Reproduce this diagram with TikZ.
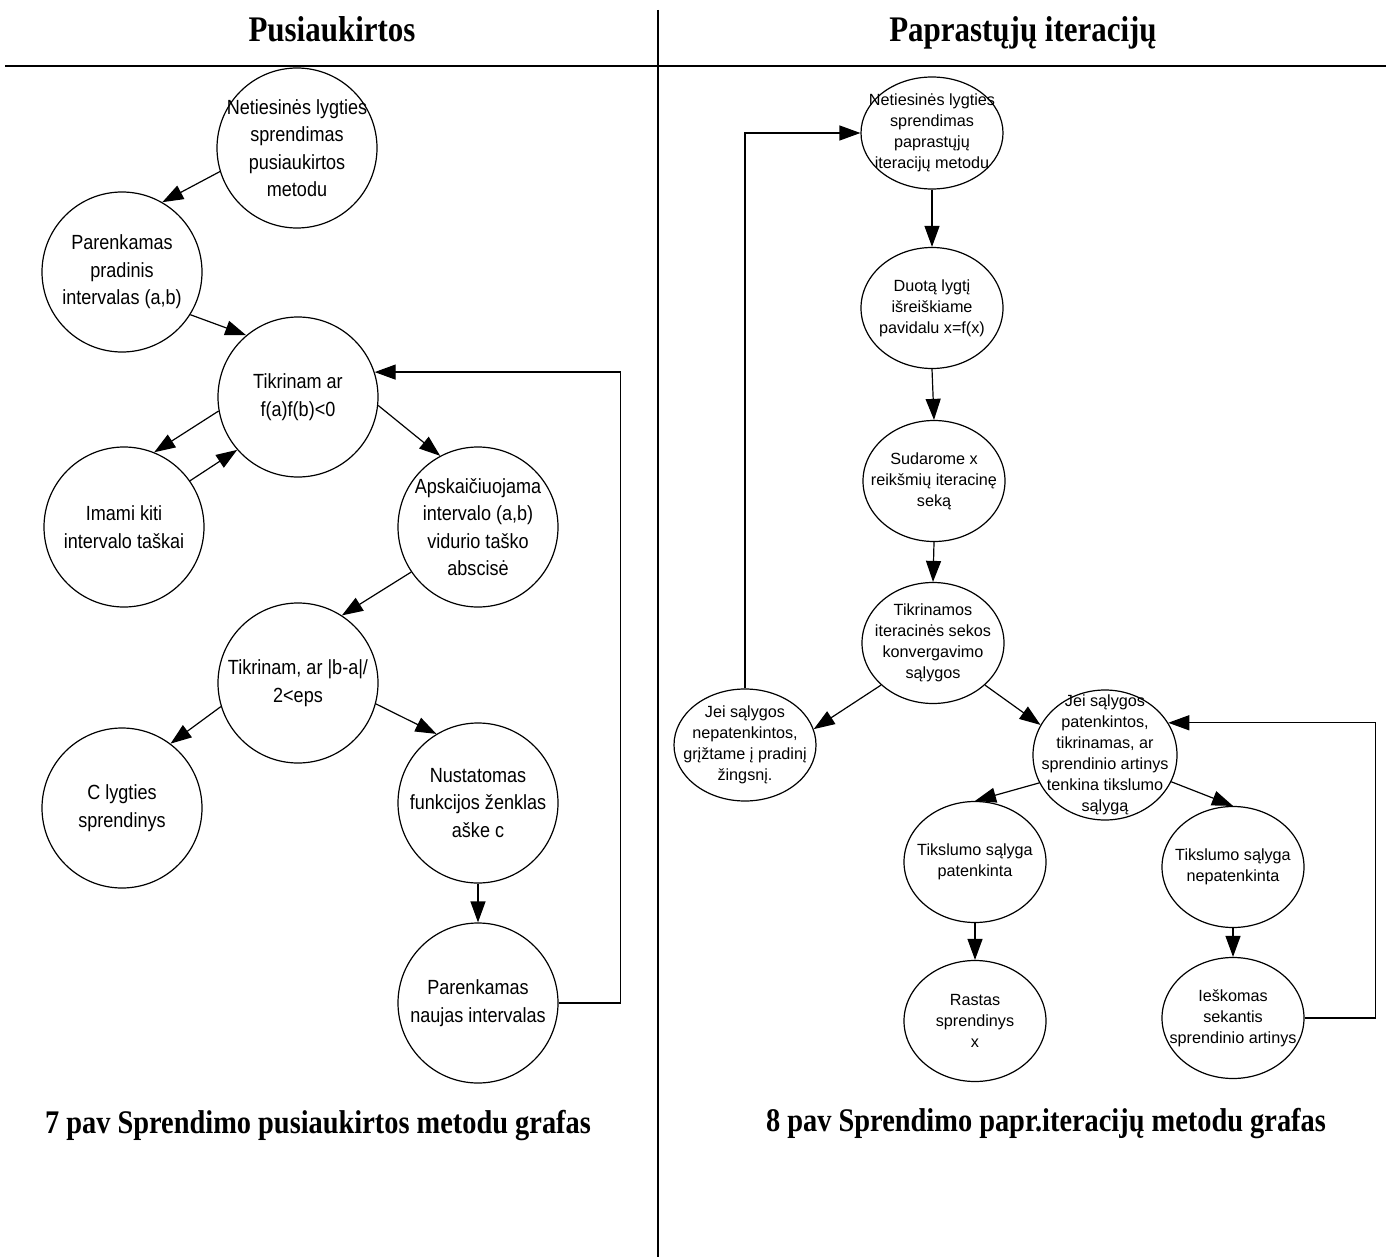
\documentclass[tikz,border=0pt]{standalone}
\usepackage{fontspec}
\setmainfont{Liberation Serif}
\newfontfamily\lsans[FakeStretch=0.88]{Liberation Sans}
\newfontfamily\rsans{Liberation Sans}
\newfontfamily\hserif[FakeStretch=0.86]{Liberation Serif}
\usetikzlibrary{arrows.meta,shapes.geometric}
\begin{document}
\begin{tikzpicture}[x=1pt,y=-1pt,
  lc/.style={circle,draw,line width=1.2pt,minimum size=160pt,inner sep=0pt},
  lt/.style={align=center,inner sep=0pt,font=\lsans\fontsize{20.5}{27.5}\selectfont},
  rc/.style={ellipse,draw,line width=1.2pt,minimum width=142pt,minimum height=121pt,inner sep=0pt},
  rt/.style={align=center,inner sep=0pt,font=\rsans\fontsize{16.2}{21}\selectfont},
  conn/.style={line width=1.2pt,-{Triangle[length=21pt,width=15pt]}},
  head/.style={font=\hserif\bfseries\fontsize{36}{40}\selectfont,inner sep=0pt,anchor=base},
  capt/.style={font=\hserif\bfseries\fontsize{33}{38}\selectfont,inner sep=0pt,anchor=base}
]
\useasboundingbox (0,0) rectangle (1386,1257);
\fill[white] (0,0) rectangle (1386,1257);

% frame lines
\draw[line width=2.5pt] (5,66) -- (1386,66);
\draw[line width=2pt] (658,10) -- (658,1257);

% headings
\node[head] (h1) at (332,42) {Pusiaukirtos};
\node[head] (h2) at (1023,42) {Paprastųjų iteracijų};

% captions
\node[capt] (c1) at (318,1133) {7 pav Sprendimo pusiaukirtos metodu grafas};
\node[capt] (c2) at (1046,1131) {8 pav Sprendimo papr.iteracijų metodu grafas};

% ---------------- left graph
\node[lc] (n1) at (297,148) {};
\node[lt] (n1t) at (n1) {Netiesinės lygties\\sprendimas\\pusiaukirtos\\metodu};
\node[lc] (n2) at (122,272) {};
\node[lt] (n2t) at (n2) {Parenkamas\\pradinis\\intervalas (a,b)};
\node[lc] (n3) at (298,397) {};
\node[lt] (n3t) at (n3) {Tikrinam ar\\f(a)f(b)<0};
\node[lc] (n4) at (124,527) {};
\node[lt] (n4t) at (n4) {Imami kiti\\intervalo taškai};
\node[lc] (n5) at (478,527) {};
\node[lt] (n5t) at (n5) {Apskaičiuojama\\intervalo (a,b)\\vidurio taško\\abscisė};
\node[lc] (n6) at (298,683) {};
\node[lt] (n6t) at (n6) {Tikrinam, ar |b-a|/\\2<eps};
\node[lc] (n7) at (122,808) {};
\node[lt] (n7t) at (n7) {C lygties\\sprendinys};
\node[lc] (n8) at (478,803) {};
\node[lt] (n8t) at (n8) {Nustatomas\\funkcijos ženklas\\aške c};
\node[lc] (n9) at (478,1003) {};
\node[lt] (n9t) at (n9) {Parenkamas\\naujas intervalas};

\draw[conn] (n1.197) -- (n2.60);
\draw[conn] (n2.-32) -- (n3.130);
\draw[conn] (n3.190) -- (n4.68);
\draw[conn] (n4.35) -- (n3.221);
\draw[conn] (n3.-6) -- (n5.118);
\draw[conn] (n5.214) -- (n6.57);
\draw[conn] (n6.197) -- (n7.53);
\draw[conn] (n6.-15) -- (n8.121);
\draw[conn] (n8.south) -- (n9.north);
\draw[conn] (n9.east) -- ++(62,0) |- (n3.18);

% ---------------- right graph
\node[rc,minimum height=112pt] (r1) at (932,133) {};
\node[rt] (r1t) at (r1) {Netiesinės lygties\\sprendimas\\paprastųjų\\iteracijų metodu};
\node[rc] (r2) at (932,308) {};
\node[rt] (r2t) at (r2) {Duotą lygtį\\išreiškiame\\pavidalu x=f(x)};
\node[rc] (r3) at (934,481) {};
\node[rt] (r3t) at (r3) {Sudarome x\\reikšmių iteracinę\\seką};
\node[rc] (r4) at (933,643) {};
\node[rt] (r4t) at (r4) {Tikrinamos\\iteracinės sekos\\konvergavimo\\sąlygos};
\node[rc,minimum height=112pt] (r7) at (745,745) {};
\node[rt] (r7t) at (r7) {Jei sąlygos\\nepatenkintos,\\grįžtame į pradinį\\žingsnį.};
\node[rc,minimum width=144pt,minimum height=130pt] (r5) at (1105,755) {};
\node[rt] (r5t) at (r5) {Jei sąlygos\\patenkintos,\\tikrinamas, ar\\sprendinio artinys\\tenkina tikslumo\\sąlygą};
\node[rc] (r8) at (975,862) {};
\node[rt] (r8t) at (r8) {Tikslumo sąlyga\\patenkinta};
\node[rc] (r9) at (1233,867) {};
\node[rt] (r9t) at (r9) {Tikslumo sąlyga\\nepatenkinta};
\node[rc] (r10) at (975,1021) {};
\node[rt] (r10t) at (r10) {Rastas\\sprendinys\\x};
\node[rc] (r11) at (1233,1018) {};
\node[rt] (r11t) at (r11) {Ieškomas\\sekantis\\sprendinio artinys};

\draw[conn] (r1.south) -- (r2.north);
\draw[conn] (r2.south) -- (r3.north);
\draw[conn] (r3.south) -- (r4.north);
\draw[conn] (r4.219) -- (r7.13);
\draw[conn] (r4.-39) -- (r5.155);
\draw[conn] (r7.north) |- (r1.west);
\draw[conn] (r5.203) -- (r8.north);
\draw[conn] (r5.-22) -- (r9.north);
\draw[conn] (r8.south) -- (r10.north);
\draw[conn] (r9.south) -- (r11.north);
\draw[conn] (r11.east) -- ++(71,0) |- (r5.27);
\end{tikzpicture}
\end{document}
